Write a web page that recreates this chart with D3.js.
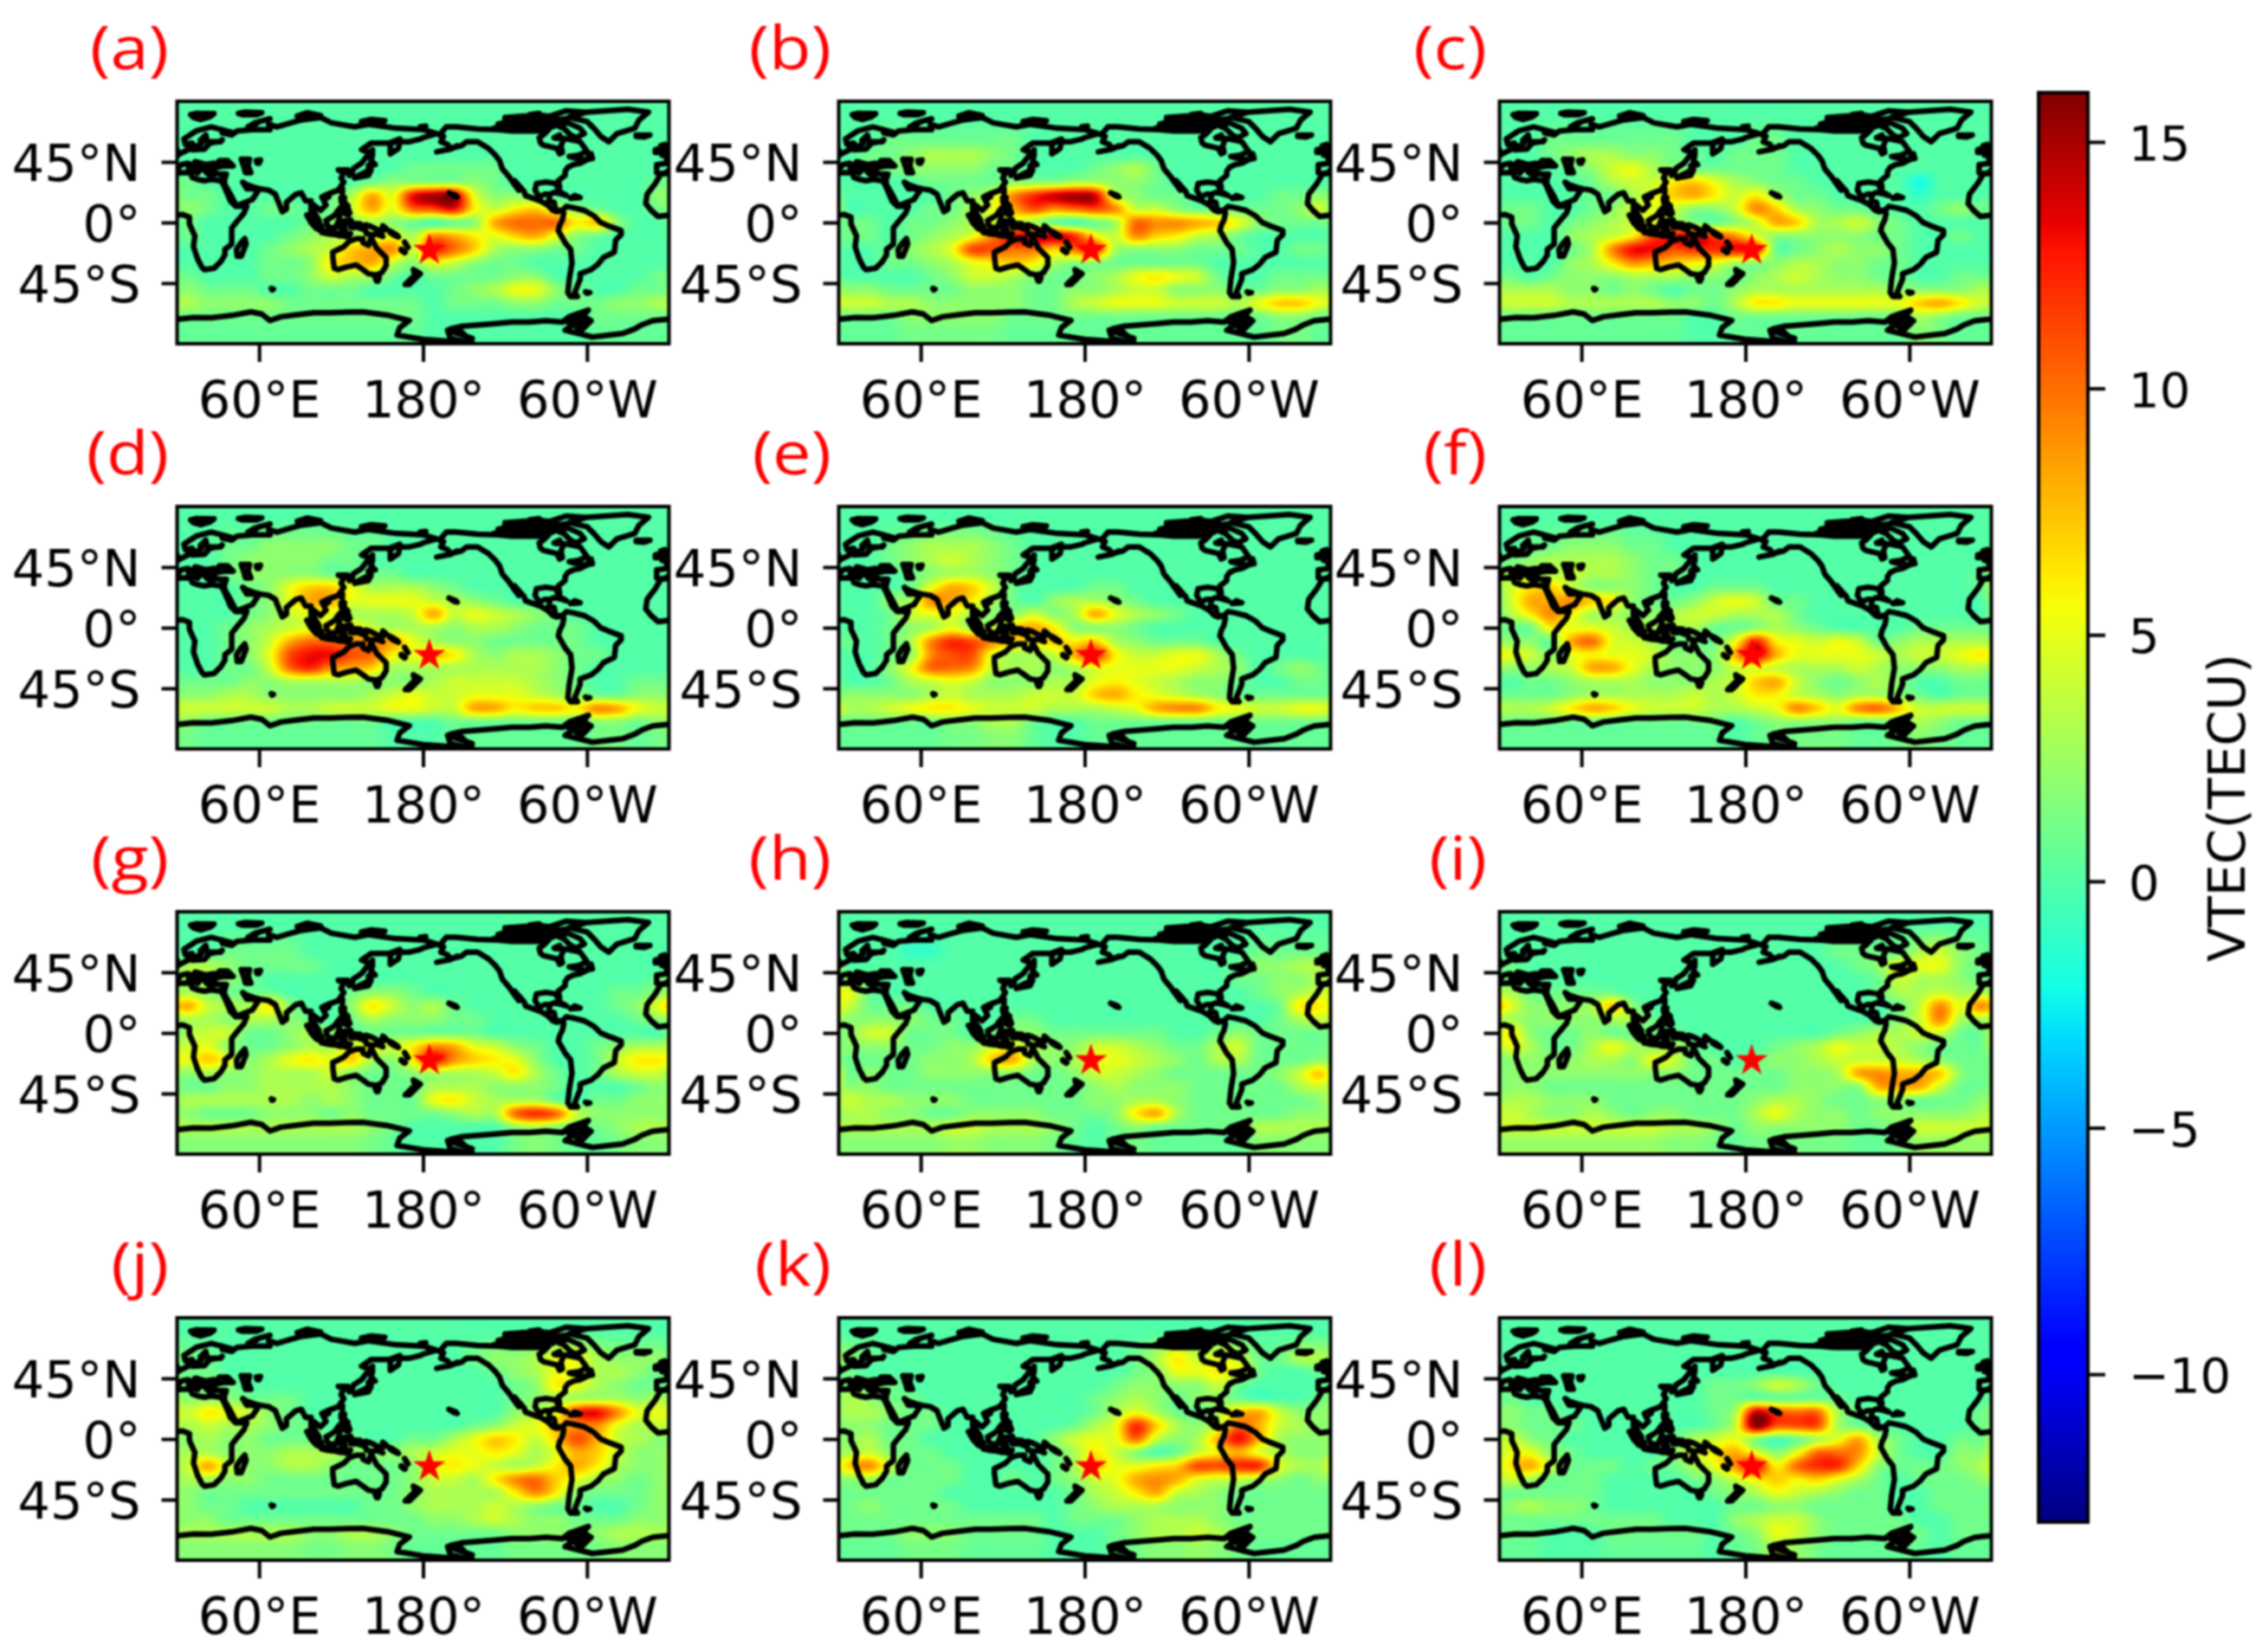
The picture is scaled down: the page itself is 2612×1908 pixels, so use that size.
<!DOCTYPE html>
<html>
<head>
<meta charset="utf-8">
<script src="https://cdn.jsdelivr.net/npm/d3@7"></script>
<style>
  body { margin: 0; background: #fff; }
  svg { filter: blur(0.8px); }
  text { font-family: "DejaVu Sans", sans-serif; fill: #000; }
</style>
</head>
<body>
<div id="chart"></div>
<script>
// VTEC anomaly, one row per latitude, one column per longitude
var gridLats = [60, 50, 40, 30, 20, 10, 0, -10, -20, -30, -40, -50, -60, -70];
var gridLons = d3.range(24).map(function (i) { return 7.5 + 15 * i; });

var panelA = [
  [0,0,0,0,0,0,0,0,0,0,0,0,0,0,0,0,0,0,0,0,0,0,0,0],
  [0,0,0,0,0,0,0,0,0,0,0,0,0,0,0,0,0,0,0,0,0,0,0,0],
  [0,0,0,0,0,0,0,0,0,0,0,1,1,1,1,1,0,0,0,0,0,0,0,0],
  [1,0,0,0,0,0,0,0,0,1,2,2,2,2,2,1,0,0,0,0,0,0,0,1],
  [1,1,0,0,0,0,0,1,3,8,5,13,15,15,5,2,2,1,0,0,0,0,0,2],
  [2,1,0,0,1,1,0,1,4,8,5,10,11,13,6,4,6,7,4,2,1,0,0,1],
  [1,0,0,0,0,0,1,2,2,3,2,1,0,1,2,8,10,10,10,6,7,2,0,0],
  [1,0,0,0,0,1,2,3,3,4,5,3,9,8,6,5,7,8,5,2,1,0,0,0],
  [0,0,0,0,1,2,3,4,7,8,9,4,12,10,7,3,2,2,1,1,0,0,0,0],
  [0,0,0,0,1,1,2,6,7,8,4,2,5,4,2,1,1,0,0,0,0,0,0,0],
  [1,0,0,0,1,1,2,4,3,3,1,0,1,1,1,1,2,2,0,0,0,0,0,1],
  [2,1,1,1,0,0,1,1,1,0,0,0,0,1,2,3,5,5,2,1,0,0,1,1],
  [3,2,2,2,2,1,1,1,1,1,1,1,0,1,1,1,2,2,1,1,1,2,2,3],
  [1,1,1,1,1,1,1,1,1,1,1,1,0,0,0,0,0,0,0,0,1,1,1,1]
];
var panelB = [
  [0,0,1,1,1,1,1,1,1,0,0,0,0,0,0,0,0,0,0,0,0,0,0,0],
  [0,1,1,2,3,3,3,2,1,0,0,0,0,0,0,0,0,0,0,0,0,0,0,0],
  [0,1,1,2,2,2,2,1,1,0,0,0,1,2,3,1,0,0,0,0,0,0,0,0],
  [0,0,0,0,1,1,1,1,2,2,2,3,3,2,2,1,0,0,0,0,0,0,0,0],
  [0,0,0,0,0,1,2,4,9,12,14,15,14,4,2,1,1,0,0,0,0,1,1,2],
  [0,0,0,0,1,1,3,5,8,11,9,10,11,9,4,4,2,1,1,1,1,1,2,4],
  [1,1,0,1,1,2,3,4,5,3,1,0,1,3,10,9,9,8,7,5,2,1,1,1],
  [1,1,0,1,2,3,5,9,13,14,14,12,6,4,9,7,6,4,3,1,0,0,0,0],
  [0,0,1,2,3,5,11,11,10,10,7,10,12,3,2,2,2,1,1,1,0,0,1,1],
  [0,0,1,1,2,3,5,6,7,6,3,2,2,1,1,1,1,1,0,0,0,0,0,0],
  [0,0,0,0,1,2,4,4,3,2,1,1,2,3,5,6,5,4,1,0,0,1,1,1],
  [2,2,1,1,1,1,2,2,2,1,1,2,2,3,4,4,2,2,2,1,1,2,2,3],
  [4,4,3,3,2,2,2,2,2,1,1,3,4,5,5,5,4,4,4,3,5,7,7,5],
  [1,1,1,2,2,2,2,2,1,1,1,1,1,1,1,1,1,1,1,1,1,2,2,1]
];
var panelC = [
  [0,0,1,1,1,1,1,1,1,0,0,0,1,1,0,0,0,0,0,0,0,0,0,0],
  [0,0,1,2,3,3,2,2,1,1,0,1,1,1,0,0,0,0,0,0,0,0,0,0],
  [0,0,0,1,2,4,5,3,2,1,1,1,1,1,0,0,0,0,0,0,0,0,0,0],
  [0,0,0,0,1,3,4,4,6,7,5,3,2,1,1,0,0,0,0,0,-2,0,0,0],
  [0,0,0,0,1,1,3,5,7,8,6,4,6,3,1,1,0,0,0,0,-1,0,0,0],
  [1,1,0,0,1,2,4,5,4,2,2,4,9,7,3,2,1,1,0,0,0,1,2,1],
  [1,1,0,1,2,3,4,5,4,2,1,2,4,8,7,3,3,4,2,1,0,0,0,0],
  [0,0,0,2,3,4,6,11,13,14,11,9,5,2,2,2,2,2,1,1,0,0,1,0],
  [0,0,0,1,3,9,13,13,11,12,12,13,12,1,1,2,3,2,2,1,0,0,0,0],
  [0,0,0,2,3,6,9,8,7,6,5,3,2,2,3,3,2,2,1,1,0,0,0,0],
  [1,0,1,2,2,2,3,3,3,2,2,1,2,3,4,3,2,2,1,1,0,0,1,1],
  [3,3,3,2,2,1,2,1,0,1,1,2,3,3,3,3,3,3,3,2,2,2,2,3],
  [4,4,4,3,3,3,3,3,2,2,1,3,6,6,5,5,5,5,5,5,7,8,6,4],
  [1,1,1,1,1,1,1,1,1,0,0,1,1,1,1,1,1,1,1,1,3,2,1,1]
];
var panelD = [
  [0,0,1,1,2,2,2,2,1,1,0,0,0,0,0,0,0,0,0,0,0,0,0,0],
  [0,0,1,2,2,2,2,1,1,0,0,0,0,0,0,0,0,0,0,0,0,0,0,0],
  [0,0,1,2,2,2,2,1,1,1,1,0,0,0,0,0,0,0,0,0,0,0,0,0],
  [0,0,0,1,2,5,7,7,5,3,3,3,2,1,0,0,0,0,0,0,0,0,0,0],
  [0,0,0,1,2,5,8,8,5,5,5,5,4,3,2,1,0,0,0,0,0,0,0,0],
  [0,0,0,1,2,4,5,5,3,3,3,4,8,4,5,4,3,2,1,0,0,0,0,0],
  [0,0,1,2,3,4,5,6,6,4,3,3,3,2,3,3,2,1,1,1,0,0,0,0],
  [0,0,1,2,4,8,10,10,9,9,8,5,3,2,2,1,1,1,1,1,0,0,0,0],
  [0,0,1,2,5,11,13,13,11,10,6,5,7,6,3,2,3,3,2,1,1,0,0,0],
  [0,0,1,1,4,10,12,9,8,7,3,3,3,3,3,3,3,3,2,1,0,0,0,0],
  [1,1,1,2,2,3,3,3,3,2,2,2,3,4,4,4,4,3,2,1,0,0,1,1],
  [2,2,3,3,2,2,2,2,2,3,4,5,4,4,5,5,5,4,3,2,1,1,2,2],
  [4,4,4,4,4,3,3,4,4,4,5,5,4,4,8,8,6,7,7,6,9,8,5,4],
  [2,1,1,1,1,1,1,1,1,1,0,0,0,1,1,1,1,1,1,1,2,2,1,2]
];
var panelE = [
  [0,0,1,2,3,3,3,2,1,0,0,0,0,0,0,0,0,0,0,0,0,0,0,0],
  [0,0,1,2,3,4,3,2,1,0,0,0,0,0,0,0,0,0,0,0,0,0,0,0],
  [0,0,0,1,2,3,3,2,1,0,0,0,0,0,0,0,0,0,0,0,0,0,0,0],
  [0,0,0,1,5,8,7,4,1,0,0,0,1,1,0,0,0,0,0,0,0,0,0,0],
  [0,0,2,3,9,8,6,3,1,0,2,3,3,2,1,0,0,0,0,0,0,0,0,0],
  [0,0,1,4,5,5,3,2,2,4,2,3,8,5,3,2,1,0,0,0,0,0,0,0],
  [0,0,1,2,3,5,3,4,7,8,6,2,2,2,1,0,0,0,0,0,0,0,0,0],
  [1,0,1,3,9,12,11,9,7,6,7,6,7,3,2,1,1,1,0,0,0,0,0,0],
  [0,0,1,2,9,11,11,5,3,3,4,8,12,6,4,4,5,5,3,1,0,0,0,0],
  [0,0,2,5,10,10,9,4,3,3,2,3,5,5,5,5,5,4,3,2,0,1,2,1],
  [0,0,1,3,4,5,4,2,2,2,3,3,5,6,5,4,3,2,2,1,0,0,1,1],
  [2,2,2,2,3,4,3,3,3,4,4,4,7,8,6,5,4,3,2,1,1,1,1,1],
  [3,3,4,5,6,6,5,4,4,4,3,3,3,4,5,8,9,9,6,5,4,4,5,5],
  [1,1,1,1,1,2,2,3,3,1,0,0,1,1,1,1,1,1,1,1,1,1,1,1]
];
var panelF = [
  [0,1,1,2,2,2,1,1,0,0,0,0,0,0,0,0,0,0,0,0,0,0,0,0],
  [1,2,3,3,3,3,2,1,1,0,0,0,0,0,0,0,0,0,0,0,0,0,0,0],
  [3,3,3,4,3,3,2,1,1,0,0,0,0,0,0,0,0,0,0,0,0,0,0,1],
  [4,6,7,4,2,2,2,1,0,0,1,1,1,0,0,0,0,0,0,0,0,0,0,1],
  [4,8,8,9,7,6,2,1,1,2,4,5,4,1,1,0,0,0,0,0,0,0,0,0],
  [3,6,9,6,3,3,2,2,3,4,4,3,3,3,1,0,0,0,0,0,0,0,0,0],
  [1,1,6,5,5,4,3,3,3,3,1,1,2,3,2,1,0,0,0,0,1,1,1,1],
  [2,2,1,8,10,5,4,3,1,1,1,5,12,6,5,4,5,4,1,2,3,3,3,3],
  [5,4,2,5,6,5,5,4,2,2,2,8,14,8,5,5,5,5,4,3,4,4,5,6],
  [2,2,3,4,8,8,5,3,2,2,2,4,5,4,3,3,3,4,3,2,2,2,3,3],
  [0,1,1,2,3,3,3,2,2,2,3,4,7,8,4,2,1,2,3,2,0,0,1,1],
  [1,1,1,2,3,3,3,3,3,4,3,4,6,6,4,3,2,3,3,2,1,0,1,1],
  [3,3,4,6,8,7,5,4,4,4,3,3,4,5,9,7,5,9,10,7,4,4,4,4],
  [1,1,1,1,1,1,1,1,1,1,1,0,1,2,2,2,2,1,1,2,3,2,1,1]
];
var panelG = [
  [0,0,1,1,1,1,0,0,0,0,0,0,0,0,0,0,0,0,0,0,0,0,0,0],
  [3,3,2,1,1,1,1,0,0,0,0,0,0,0,0,0,0,0,0,0,0,0,0,0],
  [3,3,2,1,0,0,0,0,0,0,0,0,0,0,0,0,0,0,0,0,0,0,0,1],
  [3,2,1,1,1,0,0,0,1,2,2,1,0,0,0,0,0,0,0,0,0,1,1,2],
  [8,4,3,3,6,2,0,0,2,6,4,2,3,1,0,0,0,0,0,0,0,1,2,5],
  [3,3,2,3,3,2,1,0,1,3,2,2,2,1,1,0,0,0,0,0,0,0,1,2],
  [3,4,4,1,1,2,3,2,1,1,1,1,1,1,1,0,0,0,0,0,0,0,0,0],
  [4,5,2,1,1,2,3,3,5,5,4,6,9,8,5,4,2,1,0,0,1,2,3,3],
  [5,7,5,2,3,5,6,5,7,3,2,6,13,9,7,6,5,2,0,0,1,4,6,6],
  [2,3,2,2,3,3,3,4,2,1,1,2,3,3,3,4,6,3,1,0,1,3,4,4],
  [1,1,2,2,3,3,3,3,2,1,1,1,3,3,3,2,2,2,1,0,0,0,1,2],
  [3,3,3,3,3,3,2,3,2,1,1,1,5,6,4,3,3,3,1,0,1,1,2,2],
  [2,1,1,1,2,2,2,1,2,1,1,1,1,2,3,3,10,12,10,4,2,2,2,2],
  [3,3,3,3,3,3,3,3,3,2,1,0,0,0,0,0,2,3,2,1,1,2,3,3]
];
var panelH = [
  [0,0,0,-1,-1,0,0,0,0,0,0,0,0,0,0,0,0,0,0,0,1,1,1,1],
  [0,0,0,0,0,0,0,0,0,0,0,0,0,0,0,0,0,0,0,1,2,2,3,3],
  [2,1,0,0,0,0,0,0,0,0,0,0,0,0,0,0,0,0,0,1,1,2,2,3],
  [5,1,0,0,0,0,0,0,0,0,0,0,0,0,0,0,0,0,0,0,1,2,3,4],
  [4,1,1,1,0,0,0,0,0,0,0,0,0,0,0,0,0,0,0,0,0,1,6,6],
  [2,2,2,2,1,1,0,0,1,1,0,0,0,0,0,0,0,0,0,0,0,1,3,4],
  [2,4,4,1,1,1,0,1,2,2,1,1,1,1,1,1,0,0,1,2,1,1,1,1],
  [2,2,2,1,1,2,2,4,5,3,2,2,4,4,3,2,1,1,3,4,1,1,1,1],
  [1,1,1,1,2,2,3,7,8,3,2,3,5,5,4,3,2,1,3,3,1,1,1,2],
  [1,2,1,1,2,2,2,2,2,1,1,2,4,4,3,2,1,1,1,1,1,2,4,7],
  [2,2,1,1,1,1,1,1,1,1,1,1,2,3,2,2,2,1,1,1,1,1,3,4],
  [4,3,3,2,2,2,1,1,1,1,1,1,2,2,3,3,2,1,1,1,1,1,1,2],
  [3,3,2,2,1,1,2,2,2,2,1,1,1,2,6,8,3,1,1,1,1,1,2,2],
  [3,3,3,3,3,4,4,3,3,3,2,1,0,1,2,1,1,1,1,1,3,3,3,3]
];
var panelI = [
  [0,0,0,0,0,0,0,0,0,0,0,0,0,0,0,0,1,1,1,1,3,4,2,1],
  [1,0,0,0,0,0,0,0,0,0,0,0,0,0,0,0,0,1,2,5,5,5,2,1],
  [1,0,0,0,0,0,0,0,0,0,0,0,0,0,0,0,0,0,1,4,3,3,2,1],
  [3,1,1,1,1,1,0,0,0,0,0,0,0,0,0,0,0,0,1,3,3,4,3,3],
  [5,2,2,2,3,7,2,0,0,0,0,0,0,0,0,0,0,0,0,1,4,9,5,9],
  [3,2,2,2,2,3,3,1,0,0,0,0,0,0,0,0,0,0,0,2,4,9,3,3],
  [6,2,1,1,2,1,1,1,1,0,0,0,0,0,0,0,1,2,3,3,4,4,1,1],
  [5,3,1,1,3,5,3,2,3,1,0,0,0,1,2,3,5,4,4,3,2,1,1,1],
  [2,2,2,2,3,3,2,5,4,1,1,0,1,2,2,3,4,4,4,4,3,2,1,1],
  [2,2,2,2,2,2,2,2,2,1,1,1,1,1,2,2,3,8,9,8,8,7,2,1],
  [2,2,1,1,1,1,1,1,1,1,1,1,1,1,2,2,2,2,8,8,8,4,1,1],
  [3,3,2,2,2,1,1,1,1,1,1,1,2,3,3,2,1,1,2,2,1,1,1,2],
  [4,3,2,2,3,2,1,2,2,1,1,1,3,5,3,2,2,1,2,2,2,2,2,3],
  [4,4,4,4,4,4,4,4,3,3,2,1,2,2,2,2,2,1,1,2,4,4,4,4]
];
var panelJ = [
  [1,1,0,0,0,0,0,0,0,0,0,0,0,0,1,2,2,3,5,5,3,2,2,2],
  [1,1,0,0,0,0,0,0,0,0,0,0,0,0,0,1,2,3,5,5,3,3,2,1],
  [1,1,1,0,0,0,0,0,0,0,0,0,0,0,0,0,1,2,6,5,3,2,1,1],
  [2,2,2,1,1,1,0,0,0,0,0,0,0,0,0,0,1,2,3,3,3,3,2,3],
  [4,6,5,4,2,1,0,0,0,0,0,0,0,0,0,0,2,3,5,12,13,9,5,5],
  [3,4,3,3,2,1,1,0,0,0,0,0,0,0,1,2,4,5,7,9,9,5,3,4],
  [2,3,2,2,1,1,1,1,1,0,0,1,1,3,5,7,6,4,7,11,8,4,3,2],
  [3,3,2,2,2,3,3,3,2,2,2,3,4,5,5,6,5,3,5,8,7,4,2,2],
  [4,8,4,2,2,3,3,2,1,1,1,2,5,6,5,4,3,4,6,8,6,3,2,2],
  [3,3,2,2,1,1,1,1,1,1,1,2,4,4,3,6,9,10,7,5,3,2,1,2],
  [2,1,1,1,1,1,1,1,1,1,1,2,3,3,3,3,6,9,6,2,1,1,1,2],
  [2,1,1,0,0,0,0,0,0,1,1,2,3,3,3,4,3,2,1,1,0,0,1,2],
  [2,2,1,1,1,1,1,1,1,1,1,1,2,2,3,4,3,2,2,1,1,1,2,2],
  [3,3,3,3,3,3,2,2,3,3,2,1,1,1,1,1,2,2,2,2,2,3,3,3]
];
var panelK = [
  [2,1,0,0,0,0,0,0,0,0,0,0,0,0,1,3,6,4,5,4,1,1,3,3],
  [1,0,0,0,0,0,0,0,0,0,0,0,0,0,1,2,5,5,6,5,1,0,0,1],
  [2,1,1,0,0,0,0,0,0,0,0,0,0,1,2,2,2,2,4,1,0,0,0,0],
  [3,2,1,1,0,0,0,0,0,0,0,0,1,2,3,2,1,2,2,1,0,0,0,1],
  [3,3,2,1,1,0,0,0,0,0,0,0,1,3,5,3,1,1,3,7,8,4,2,2],
  [2,2,1,1,1,0,0,0,0,0,0,1,3,5,12,7,3,2,4,10,8,4,3,2],
  [2,3,1,1,0,0,0,0,0,0,2,4,5,5,10,4,2,3,8,13,8,3,2,2],
  [3,4,2,1,1,0,0,0,0,0,1,3,6,4,2,0,1,4,6,8,5,3,2,2],
  [7,9,4,1,1,1,0,0,0,0,1,3,7,5,5,6,7,11,11,12,12,5,3,3],
  [2,3,1,1,1,1,0,0,1,0,1,2,4,5,8,9,8,5,4,4,3,2,1,2],
  [1,1,1,1,1,0,0,0,0,0,0,1,3,4,6,8,4,3,2,1,1,1,1,1],
  [1,2,1,1,1,1,0,0,0,0,0,1,2,3,3,3,2,2,2,1,1,1,1,1],
  [1,1,1,1,1,1,1,1,1,1,0,1,1,1,2,3,3,3,2,1,1,1,1,1],
  [1,1,1,2,2,2,1,1,1,1,0,0,0,1,2,3,3,4,3,2,1,1,1,1]
];
var panelL = [
  [0,0,0,0,0,0,0,0,0,0,0,0,0,0,0,0,0,0,0,0,0,0,0,0],
  [0,0,0,0,0,0,0,0,0,0,0,0,0,0,0,0,0,0,0,0,0,0,0,0],
  [1,0,0,0,0,0,0,0,0,0,1,1,2,4,3,1,0,0,0,0,0,0,0,0],
  [1,0,0,0,0,0,0,0,0,0,1,1,1,1,1,1,1,0,0,0,0,0,0,0],
  [2,1,1,0,0,0,0,0,0,0,1,3,14,11,10,10,3,1,0,0,0,0,0,1],
  [2,1,1,1,0,0,0,0,0,0,1,4,16,11,11,11,3,1,0,0,0,0,0,1],
  [4,2,1,0,0,0,0,1,1,3,4,5,2,0,1,3,5,8,3,1,0,0,1,1],
  [5,5,2,1,0,0,0,0,2,4,6,8,5,2,5,10,10,9,4,1,0,0,2,2],
  [6,8,4,1,1,1,0,1,1,3,5,9,13,6,10,12,12,7,2,1,1,1,2,3],
  [4,3,1,1,1,0,0,0,0,1,2,4,6,7,6,7,5,3,1,0,1,1,1,2],
  [1,1,1,1,1,0,0,0,0,0,1,2,3,5,4,3,2,1,1,0,0,1,1,1],
  [2,3,2,2,1,0,0,0,0,0,0,1,1,2,2,1,1,1,1,0,0,1,1,1],
  [1,1,1,1,1,1,1,1,0,0,0,2,3,4,4,2,1,1,1,1,0,0,1,1],
  [1,1,0,0,0,1,1,1,1,1,0,1,2,5,4,2,1,1,1,1,1,0,1,1]
];
var panels = [panelA, panelB, panelC, panelD, panelE, panelF, panelG, panelH, panelI, panelJ, panelK, panelL];
var panelLabels = ["(a)", "(b)", "(c)", "(d)", "(e)", "(f)", "(g)", "(h)", "(i)", "(j)", "(k)", "(l)"];

// eruption site
var starLon = 184.6;
var starLat = -20.5;

var lonTicks = [60, 180, 300];
var lonTickLabels = ["60°E", "180°", "60°W"];
var latTicks = [45, 0, -45];
var latTickLabels = ["45°N", "0°", "45°S"];
var barTicks = [-10, -5, 0, 5, 10, 15];
var barDomain = [-13, 16];

// matplotlib jet
var jetStops = [0, 0.11, 0.125, 0.34, 0.375, 0.64, 0.66, 0.89, 0.91, 1];
var jetColors = ["#000080", "#0000ff", "#0000ff", "#00dcff", "#15ffe6", "#f7ff08", "#ffed00", "#ff1200", "#e80000", "#800000"];

// coastlines as [lon, lat], lon may run past 0 so every line is drawn twice (0 and +360)
var coastAfrica = [[-6,36],[3,37],[10,37],[11,33.5],[15,32],[20,31],[25,32],[32,31],[34,28],[37,21],[39,16],[43,12],[51,12],[49,7],[44,1],[40,-4],[40,-11],[40,-16],[35,-20],[35,-24],[32,-29],[27,-34],[20,-35],[18,-33],[15,-27],[12,-18],[13,-10],[9,-1],[9,4],[4,6],[-4,5],[-8,4.5],[-13,9],[-17,14],[-16,21],[-10,29],[-6,36]];
var coastEurasia = [[-9,37],[-9,43],[-1,44],[-2,48],[2,51],[8,54],[8,57],[11,54],[20,54.5],[24,59],[30,60],[22,60],[21,65],[17,61],[18,59],[13,55.5],[11,59],[6,58],[5,62],[14,68],[25,71],[40,67],[33,66.5],[40,65],[44,68],[55,69],[68,69],[67,73],[73,71],[80,73],[90,76],[105,78],[113,74],[130,71],[140,73],[160,70],[180,69],[190,66],[180,63],[178,62],[170,60],[163,60],[162,55],[156,51],[156,58],[163,62],[155,59],[142,59],[135,54],[141,52],[135,44],[129,40],[128,36],[126,35],[125,39],[121,39],[118,39],[122,37],[120,33],[122,30],[118,24],[110,21],[106,19],[109,13],[105,9],[100,13],[100,8],[104,1.5],[100,4],[98,8],[98,16],[94,16],[91,22],[87,21],[80,15],[80,10],[77,8],[73,18],[72,21],[67,24],[61,25],[57,26],[51,28],[48,30],[51,25],[56,25],[59,23],[55,17],[45,13],[43,13],[39,21],[35,28],[34.5,31],[36,36],[30,36],[26,38],[27,41],[23,40],[23,37],[19,41],[13,45],[18,40],[16,38],[12,42],[8,44],[3,43],[0,39],[-2,37],[-6,36],[-9,37]];
var coastNorthAmerica = [[192,65],[197,71],[204,71],[220,69.5],[235,69],[245,68],[255,68],[265,68],[272,69],[268,65],[265,63],[266,59],[268,57.5],[278,55],[280,51],[282,52],[281,57],[283,62],[278,63],[286,62],[295,60],[300,53],[294,50],[287,49],[295,47],[300,46.5],[295,44],[290,43],[286,41],[284,38],[284,35],[279,31],[280,26],[279,25],[277,29],[270,30],[263,29],[262,24],[265,19],[269,21],[273,21],[272,16],[276,15],[277,9],[282,9],[278,8],[275,9],[271,13],[266,16],[255,20],[254,23],[247,31],[250,24],[245,31],[243,34],[238,40],[236,46],[233,50],[228,55],[220,60],[212,60],[208,57],[200,55],[198,58],[193,60],[195,64],[192,65]];
var coastSouthAmerica = [[282,9],[285,12],[290,11],[298,9],[305,5],[310,0],[317,-3],[325,-6],[325,-9],[321,-13],[320,-22],[312,-26],[308,-31],[303,-35],[295,-38],[295,-42],[293,-47],[291,-52],[293,-55],[288,-55],[286,-52],[287,-42],[289,-30],[288,-20],[284,-15],[279,-6],[280,-2],[282,2],[283,7],[282,9]];
var coastAustralia = [[114,-22],[122,-18],[126,-14],[131,-12],[136,-12],[136,-15],[140,-17],[142,-11],[146,-19],[153,-26],[153,-32],[150,-37],[146,-39],[140,-38],[136,-35],[131,-31.5],[124,-33],[118,-35],[115,-34],[114,-26],[114,-22]];
var coastGreenland = [[287,78],[300,82],[330,84],[345,82],[338,76],[335,70],[322,66],[316,60],[310,64],[305,70],[300,75],[287,78]];
var coastAntarctica = [[0,-71.8],[12,-70.5],[25,-70.7],[40,-69],[54,-66.4],[62,-68],[68,-72.8],[76,-70],[88,-68.5],[100,-67],[112,-67],[125,-66.5],[136,-66.4],[155,-69],[170,-72.8],[163,-78],[161,-83.6],[180,-86.8],[197,-88],[216,-89],[207,-80],[200,-79],[209,-77],[233,-75],[245,-74],[258,-74],[270,-73],[282,-74],[287,-70],[301,-65],[292,-74],[284,-80],[304,-85],[326,-82.5],[335,-79],[340,-76],[348,-73],[357,-72],[360,-71.8]];
var coastIslands = [
  [[49.5,-12],[50.5,-16],[47,-25],[44,-25],[43.5,-20],[46,-16],[49.5,-12]],
  [[28,42],[31,46],[37,46],[41,42],[35,42],[29,41],[28,42]],
  [[47,47],[53,47],[52,42],[54,37],[50,37],[49,41],[47,47]],
  [[58,46],[61,46.5],[60,44],[58.5,44],[58,46]],
  [[31,60],[33,61.5],[32,60],[31,60]],
  [[8.5,43],[9.5,42.5],[10,39],[8.5,39],[8.5,43]], [[12.5,38],[15.5,38],[15,36.7],[12.5,38]], [[23.5,35.6],[26.5,35.3],[24,34.9],[23.5,35.6]], [[32.5,35.2],[34.5,35.6],[33,34.6],[32.5,35.2]],
  [[20,39],[22,38],[22,36.5],[20,39]], [[25,39],[27,38],[25,37],[25,39]], [[14,45],[20,43],[27,44],[28,42],[23,42],[18,44],[14,45]],
  [[-5,50],[1,51],[0,54],[-3,58],[-6,57],[-3,54],[-5,52],[-5,50]],
  [[-10,52],[-6,52],[-6,55],[-10,54],[-10,52]],
  [[-24,65],[-14,65],[-18,63.5],[-24,64],[-24,65]],
  [[10,80],[14,81],[27,80.8],[24,78.5],[17,76.5],[12,78],[10,80]],
  [[45,81],[50,82],[62,81.5],[58,80],[48,80],[45,81]],
  [[52,71],[57,74],[68,77],[60,75],[55,71],[52,71]],
  [[88,79],[95,81.5],[105,79.5],[100,78],[88,79]],
  [[135,75],[142,76.5],[152,75.5],[148,73.8],[138,73.8],[135,75]],
  [[178,71],[182,71.5],[180,70.7],[178,71]],
  [[130,33],[135,34],[140,35],[142,39],[141,41],[139,38],[135,36],[131,34],[130,33]],
  [[140,42],[145,43],[143,45],[140,42]],
  [[142,46],[143,50],[143,54],[142,50],[142,46]],
  [[121,25],[121,22],[120,23],[121,25]],
  [[109,20],[111,19],[109,18],[109,20]],
  [[120,18.5],[122.5,18.5],[122,16],[124,13],[121,13.5],[120,16],[120,18.5]],
  [[122,8],[125.5,9.5],[126.5,7],[125,5.5],[122,7],[122,8]],
  [[122,11.5],[125,12.5],[125,10],[122.5,9.5],[122,11.5]],
  [[117,8],[119.5,11],[118,8.5],[117,8]],
  [[95,5.5],[98,4.5],[103,0.5],[106,-3],[105.5,-6],[102,-4.5],[98,0],[95,5.5]],
  [[105,-6],[108,-6.2],[111,-6.3],[114.5,-7.5],[114.5,-8.8],[110,-8.3],[106,-7.5],[105,-6]],
  [[115,-8],[119,-8],[123,-8],[125,-8.2],[125,-9.5],[120,-10],[116,-9],[115,-8]],
  [[123.5,-10.5],[127,-8.2],[126,-9.8],[123.5,-10.5]],
  [[109,1.5],[111.5,3],[114,4.5],[117,7],[119,5],[118,1],[116,-4],[111,-3.5],[109.5,-1],[109,1.5]],
  [[119.5,-0.5],[120.5,1.2],[125,1.5],[121,0],[123.5,-1],[122,-3],[123,-5.5],[120.5,-5.5],[119.5,-3],[119.5,-0.5]],
  [[127,2],[128.5,-1],[130,-3.5],[127,-3.5],[127,2]],
  [[128,-3],[130.5,-3],[130,-3.7],[128,-3]],
  [[131,-0.8],[134,-1],[135,-3.3],[138,-1.7],[141,-2.6],[145,-4.5],[147.5,-6],[150.5,-10.3],[146,-8.5],[143,-9.2],[138.5,-8.3],[138,-5.5],[133,-4],[131,-0.8]],
  [[148,-5.8],[152,-4.2],[151,-6],[148,-6.2],[148,-5.8]],
  [[150.5,-2.5],[153,-4.5],[152,-3.5],[150.5,-2.5]],
  [[155,-6],[157,-7],[161,-9.5],[162,-10.8],[159,-9.5],[156,-7.5],[155,-6]],
  [[166.5,-14.5],[167.5,-16],[169,-18.5],[168,-17.5],[166.5,-14.5]],
  [[164,-20],[167,-22],[166.5,-22.4],[164,-20.5],[164,-20]],
  [[199,22],[204,20],[205,19],[203,19.5],[199,22]],
  [[145,-41],[148,-41],[147,-43.5],[146,-43.5],[145,-41]],
  [[173,-35],[178,-38],[175,-41],[174,-39],[173,-35]],
  [[172,-41],[174,-42],[170,-46],[167,-46],[172,-41]],
  [[69,-49],[70.5,-49.5],[69.5,-50],[69,-49]],
  [[299,-51.5],[302,-52],[300,-52.5],[299,-51.5]],
  [[275,22],[280,23],[285,20],[282,21],[278,22],[275,22]],
  [[288,18],[291,20],[295,18.5],[288,18]],
  [[278,72],[286,74],[295,70],[298,66],[292,63],[288,65],[283,70],[278,72]],
  [[243,72],[255,73],[252,69],[243,70],[243,72]],
  [[235,73],[242,75],[240,71.5],[235,73]],
  [[270,78],[285,83],[298,82],[282,76],[270,78]],
  [[250,76],[262,77],[265,74],[252,74.5],[250,76]],
  [[262,80],[272,79],[270,76],[262,78],[262,80]],
  [[240,78],[255,79],[250,76.5],[240,77],[240,78]],
  [[244,76],[252,78],[258,76.5],[250,75],[244,76]],
  [[255,73],[262,74],[265,71],[258,70],[255,73]],
  [[265,73],[272,74],[275,71],[268,71],[265,73]],
  [[272,76],[285,77],[280,74],[272,74],[272,76]],
  [[258,80],[265,81],[268,78],[258,78],[258,80]],
  [[240,73],[250,75],[255,72],[245,71],[240,73]],
  [[232,70],[245,71],[255,70],[262,70]],
  [[276,63],[280,65],[278,62.5],[276,63]],
  [[190,52.5],[195,53.5],[200,54.5],[205,57]],
  [[284,-73],[295,-78],[300,-72],[284,-73]],
  [[298,-70],[290,-76],[296,-80],[303,-73],[298,-70]],
  [[198,-80],[216,-86],[212,-89],[200,-86],[198,-80]],
  [[301,47],[304,47.5],[303,51],[301,49],[301,47]]
];
var coastLines = [coastAfrica, coastEurasia, coastNorthAmerica, coastSouthAmerica, coastAustralia, coastGreenland, coastAntarctica].concat(coastIslands);

// layout
var svgWidth = 2612;
var svgHeight = 1908;
var colLeft = [204.5, 968.5, 1731.5];
var rowTop = [117, 585, 1053, 1522];
var panelWidth = 568;
var panelHeight = 280;
var labelRight = [195, 960, 1717];

var svg = d3.select("#chart").append("svg")
  .attr("width", svgWidth)
  .attr("height", svgHeight)
  .style("display", "block");

svg.append("rect").attr("width", svgWidth).attr("height", svgHeight).attr("fill", "#fff");

var lonScale = d3.scaleLinear().domain([0, 360]).range([0, panelWidth]);
var latScale = d3.scaleLinear().domain([90, -90]).range([0, panelHeight]);

var colorScale = d3.scaleLinear()
  .domain(jetStops.map(function (s) { return barDomain[0] + s * (barDomain[1] - barDomain[0]); }))
  .range(jetColors)
  .clamp(true);

// colour table so the pixel loop below stays cheap
var tableSize = 1024;
var colorTable = d3.range(tableSize).map(function (i) {
  var c = d3.rgb(colorScale(barDomain[0] + (barDomain[1] - barDomain[0]) * i / (tableSize - 1)));
  return [c.r, c.g, c.b];
});

function catmull(a, b, c, d, t) {
  return b + 0.5 * t * (c - a + t * (2 * a - 5 * b + 4 * c - d + t * (3 * (b - c) + d - a)));
}

// paints one panel's cells into an image, smoothed the way imshow does
function heatImage(grid) {
  var canvas = document.createElement("canvas");
  canvas.width = panelWidth;
  canvas.height = panelHeight;
  var ctx = canvas.getContext("2d");
  var img = ctx.createImageData(panelWidth, panelHeight);
  var nCols = gridLons.length;
  var nRows = gridLats.length;

  // above and below the table the field settles back towards the background
  function cell(r, c) {
    var row = grid[Math.max(0, Math.min(nRows - 1, r))];
    var v = row[((c % nCols) + nCols) % nCols];
    if (r < 0) return v * Math.max(0, 1 + r * 0.5);
    if (r >= nRows) return v * 0.6;
    return v;
  }

  var k = 0;
  for (var y = 0; y < panelHeight; y++) {
    var lat = latScale.invert(y + 0.5);
    var fy = (gridLats[0] - lat) / 10;
    var r0 = Math.floor(fy);
    var ty = fy - r0;
    for (var x = 0; x < panelWidth; x++) {
      var lon = lonScale.invert(x + 0.5);
      var fx = (lon - gridLons[0]) / 15;
      var c0 = Math.floor(fx);
      var tx = fx - c0;
      var rows = [];
      for (var j = -1; j <= 2; j++) {
        rows.push(catmull(cell(r0 + j, c0 - 1), cell(r0 + j, c0), cell(r0 + j, c0 + 1), cell(r0 + j, c0 + 2), tx));
      }
      var v = catmull(rows[0], rows[1], rows[2], rows[3], ty);
      var idx = Math.round((v - barDomain[0]) / (barDomain[1] - barDomain[0]) * (tableSize - 1));
      var rgb = colorTable[Math.max(0, Math.min(tableSize - 1, idx))];
      img.data[k++] = rgb[0];
      img.data[k++] = rgb[1];
      img.data[k++] = rgb[2];
      img.data[k++] = 255;
    }
  }
  ctx.putImageData(img, 0, 0);
  return canvas.toDataURL();
}

var defs = svg.append("defs");
defs.append("clipPath").attr("id", "mapClip")
  .append("rect").attr("width", panelWidth).attr("height", panelHeight);

var star = d3.symbol().type(d3.symbolStar).size(430);

var lonAxis = d3.axisBottom(lonScale)
  .tickValues(lonTicks)
  .tickFormat(function (d, i) { return lonTickLabels[i]; })
  .tickSize(21)
  .tickPadding(22);

var latAxis = d3.axisLeft(latScale)
  .tickValues(latTicks)
  .tickFormat(function (d, i) { return latTickLabels[i]; })
  .tickSize(18)
  .tickPadding(24);

panels.forEach(function (grid, n) {
  var col = n % 3;
  var row = Math.floor(n / 3);
  var g = svg.append("g").attr("transform", `translate(${colLeft[col]}, ${rowTop[row]})`);

  g.append("image")
    .attr("width", panelWidth)
    .attr("height", panelHeight)
    .attr("href", heatImage(grid));

  var coast = g.append("g").attr("clip-path", "url(#mapClip)");
  [0, 360].forEach(function (offset) {
    var line = d3.line()
      .x(function (d) { return lonScale(d[0] + offset); })
      .y(function (d) { return latScale(d[1]); });
    coast.selectAll(null)
      .data(coastLines)
      .enter()
      .append("path")
      .attr("d", line)
      .attr("fill", "none")
      .attr("stroke", "#000")
      .attr("stroke-width", 6.5)
      .attr("stroke-linejoin", "round")
      .attr("stroke-linecap", "round");
  });

  g.append("path")
    .attr("d", star)
    .attr("transform", `translate(${lonScale(starLon)}, ${latScale(starLat)})`)
    .attr("fill", "#ff0000");

  g.append("rect")
    .attr("width", panelWidth)
    .attr("height", panelHeight)
    .attr("fill", "none")
    .attr("stroke", "#000")
    .attr("stroke-width", 4);

  var xAxisG = g.append("g").attr("transform", `translate(0, ${panelHeight})`).call(lonAxis);
  var yAxisG = g.append("g").call(latAxis);
  [xAxisG, yAxisG].forEach(function (a) {
    a.select(".domain").remove();
    a.selectAll("line").attr("stroke", "#000").attr("stroke-width", 4);
    a.selectAll("text").attr("font-family", "DejaVu Sans").attr("font-size", 59).attr("fill", "#000");
  });
  yAxisG.selectAll("text").attr("dy", "0.37em");

  svg.append("text")
    .attr("transform", `translate(${labelRight[col]}, ${rowTop[row] - 37}) scale(1.15, 1)`)
    .attr("text-anchor", "end")
    .style("font-family", "'Open Sans'")
    .style("fill", "#ff0000")
    .attr("font-size", 69)
    .text(panelLabels[n]);
});

// colour bar
var barLeft = 2354;
var barWidth = 57;
var barTop = 107;
var barHeight = 1651;

var barScale = d3.scaleLinear().domain(barDomain).range([barHeight, 0]);
var barGroup = svg.append("g").attr("transform", `translate(${barLeft}, ${barTop})`);

var gradient = defs.append("linearGradient")
  .attr("id", "jetGradient")
  .attr("x1", 0).attr("y1", 1).attr("x2", 0).attr("y2", 0);
gradient.selectAll("stop")
  .data(jetStops)
  .enter()
  .append("stop")
  .attr("offset", function (d) { return d; })
  .attr("stop-color", function (d, i) { return jetColors[i]; });

barGroup.append("rect")
  .attr("width", barWidth)
  .attr("height", barHeight)
  .attr("fill", "url(#jetGradient)")
  .attr("stroke", "#000")
  .attr("stroke-width", 4);

var barAxisG = barGroup.append("g")
  .attr("transform", `translate(${barWidth}, 0)`)
  .call(d3.axisRight(barScale)
    .tickValues(barTicks)
    .tickFormat(function (d) { return d < 0 ? "\u2212" + Math.abs(d) : d; })
    .tickSize(20)
    .tickPadding(27));
barAxisG.select(".domain").remove();
barAxisG.selectAll("line").attr("stroke", "#000").attr("stroke-width", 4);
barAxisG.selectAll("text").attr("font-family", "DejaVu Sans").attr("font-size", 56).attr("fill", "#000").attr("dy", "0.37em");

svg.append("text")
  .attr("transform", "translate(2572, 933) rotate(-90)")
  .attr("text-anchor", "middle")
  .attr("dominant-baseline", "central")
  .attr("font-size", 58)
  .attr("textLength", 356)
  .attr("lengthAdjust", "spacingAndGlyphs")
  .text("VTEC(TECU)");
</script>
</body>
</html>
